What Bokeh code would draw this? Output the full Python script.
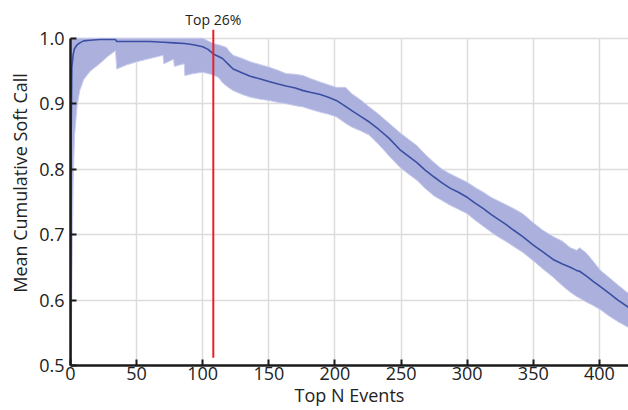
from bokeh.plotting import figure
from bokeh.models import Range1d, FixedTicker, PrintfTickFormatter, ColumnDataSource
from bokeh.core.properties import value
from bokeh.embed import file_html
from bokeh.resources import INLINE

top_n_x = [0, 0.5, 1, 2, 3, 5, 7, 10, 15, 22, 28, 34, 35, 42, 50, 60, 70, 70.5, 78, 78.5,
           86, 86.5, 93, 100, 104, 108, 112, 115, 118, 120, 123, 130, 136, 143, 150, 157,
           163, 170, 176, 182, 189, 195, 201, 208, 213, 220, 226, 233, 241, 249, 256, 262,
           268, 275, 281, 287, 293, 300, 306, 312, 318, 323, 329, 335, 342, 350, 357, 365,
           372, 378, 383, 385, 390, 395, 401, 407, 414, 422]
mean_call = [0.50, 0.85, 0.955, 0.975, 0.984, 0.990, 0.993, 0.996, 0.997, 0.998, 0.998, 0.998,
             0.995, 0.995, 0.995, 0.995, 0.994, 0.994, 0.993, 0.993, 0.992, 0.992, 0.990, 0.987,
             0.983, 0.976, 0.972, 0.969, 0.963, 0.959, 0.953, 0.947, 0.942, 0.938, 0.934, 0.930,
             0.927, 0.924, 0.920, 0.917, 0.914, 0.910, 0.905, 0.896, 0.889, 0.880, 0.872, 0.861,
             0.847, 0.830, 0.819, 0.810, 0.799, 0.788, 0.779, 0.771, 0.765, 0.757, 0.748, 0.740,
             0.731, 0.724, 0.716, 0.707, 0.697, 0.684, 0.674, 0.662, 0.655, 0.650, 0.645, 0.644,
             0.637, 0.629, 0.620, 0.611, 0.600, 0.589]
lower_call = [0.50, 0.50, 0.62, 0.78, 0.85, 0.897, 0.92, 0.937, 0.950, 0.961, 0.972, 0.981,
              0.953, 0.959, 0.964, 0.969, 0.974, 0.961, 0.968, 0.957, 0.961, 0.943, 0.946, 0.948,
              0.946, 0.944, 0.940, 0.932, 0.927, 0.924, 0.920, 0.914, 0.910, 0.907, 0.905, 0.902,
              0.900, 0.897, 0.895, 0.891, 0.887, 0.884, 0.880, 0.870, 0.864, 0.858, 0.852, 0.838,
              0.820, 0.803, 0.792, 0.783, 0.771, 0.759, 0.752, 0.745, 0.739, 0.732, 0.722, 0.713,
              0.704, 0.697, 0.690, 0.682, 0.673, 0.660, 0.648, 0.635, 0.622, 0.612, 0.605, 0.603,
              0.597, 0.592, 0.585, 0.576, 0.567, 0.558]
upper_call = [0.50, 1.0, 1.0, 1.0, 1.0, 1.0, 1.0, 1.0, 1.0, 1.0, 1.0, 1.0,
              1.0, 1.0, 1.0, 1.0, 1.0, 1.0, 1.0, 1.0, 1.0, 1.0, 1.0, 1.0,
              0.996, 0.992, 0.990, 0.988, 0.986, 0.980, 0.974, 0.969, 0.964, 0.960, 0.956, 0.951,
              0.946, 0.945, 0.943, 0.938, 0.933, 0.929, 0.925, 0.925, 0.915, 0.905, 0.895, 0.884,
              0.870, 0.856, 0.845, 0.836, 0.823, 0.810, 0.800, 0.793, 0.787, 0.780, 0.772, 0.765,
              0.757, 0.752, 0.746, 0.740, 0.732, 0.718, 0.707, 0.697, 0.690, 0.680, 0.676, 0.680,
              0.672, 0.660, 0.645, 0.635, 0.623, 0.610]

x_ticks = [0, 50, 100, 150, 200, 250, 300, 350, 400]
y_ticks = [0.5, 0.6, 0.7, 0.8, 0.9, 1.0]
cutoff_x = 108
cutoff_label = "Top 26%"
x_label = "Top N Events"
y_label = "Mean Cumulative Soft Call"

FONT = "Open Sans"

p = figure(width=628, height=410, output_backend="svg", toolbar_location=None,
           x_range=Range1d(0, 422), y_range=Range1d(0.5, 1.0577),
           min_border_left=70, min_border_right=0, min_border_top=0, min_border_bottom=45)
p.outline_line_color = None
p.background_fill_color = "white"
p.border_fill_color = "white"

# grid
for g in (p.xgrid, p.ygrid):
    g.grid_line_color = "#dcdcdc"
    g.grid_line_width = 1.5
p.xgrid.ticker = FixedTicker(ticks=x_ticks)
p.ygrid.ticker = FixedTicker(ticks=y_ticks)
mask_needed = False
try:
    p.xgrid.cross_bounds = (0.5, 1.0)
except Exception:
    mask_needed = True

src = ColumnDataSource(dict(x=top_n_x, m=mean_call, lo=lower_call, hi=upper_call))
p.varea(x="x", y1="lo", y2="hi", source=src, fill_color="#abb0dc", fill_alpha=1.0)
p.line(x="x", y="lo", source=src, line_color="#c9cced", line_width=1)
p.line(x="x", y="hi", source=src, line_color="#c9cced", line_width=1)
p.line(x="x", y="m", source=src, line_color="#3a4fa3", line_width=1.6)

if mask_needed:
    p.varea(x=[0, 422], y1=[1.0025, 1.0025], y2=[1.0577, 1.0577], fill_color="white")

p.segment(x0=[cutoff_x], y0=[0.512], x1=[cutoff_x], y1=[1.013], line_color="#e8202a", line_width=2)
p.text(x=[cutoff_x], y=[1.028], text=[cutoff_label], text_align="center", text_baseline="middle",
       text_font=value(FONT), text_font_size="14px", text_color="#222222")

# axes
for ax in (p.xaxis[0], p.yaxis[0]):
    ax.axis_line_color = "#1a1a1a"
    ax.axis_line_width = 2.5
    ax.major_tick_line_color = "#1a1a1a"
    ax.major_tick_line_width = 2
    ax.major_tick_in = 6
    ax.major_tick_out = 0
    ax.minor_tick_line_color = None
    ax.major_label_text_font = FONT
    ax.major_label_text_font_size = "18px"
    ax.major_label_text_color = "#222222"
    ax.axis_label_text_font = FONT
    ax.axis_label_text_font_size = "18px"
    ax.axis_label_text_font_style = "normal"
    ax.axis_label_text_color = "#222222"

p.xaxis.ticker = FixedTicker(ticks=x_ticks)
p.yaxis.ticker = FixedTicker(ticks=y_ticks)
p.yaxis.formatter = PrintfTickFormatter(format="%.1f")
p.yaxis.bounds = (0.5, 1.0)
p.xaxis.axis_label = x_label
p.yaxis.axis_label = y_label
p.xaxis.major_label_standoff = 1
p.xaxis.axis_label_standoff = 0
p.yaxis.major_label_standoff = 6
p.yaxis.axis_label_standoff = 4

open("out.html", "w").write(file_html(p, INLINE))
